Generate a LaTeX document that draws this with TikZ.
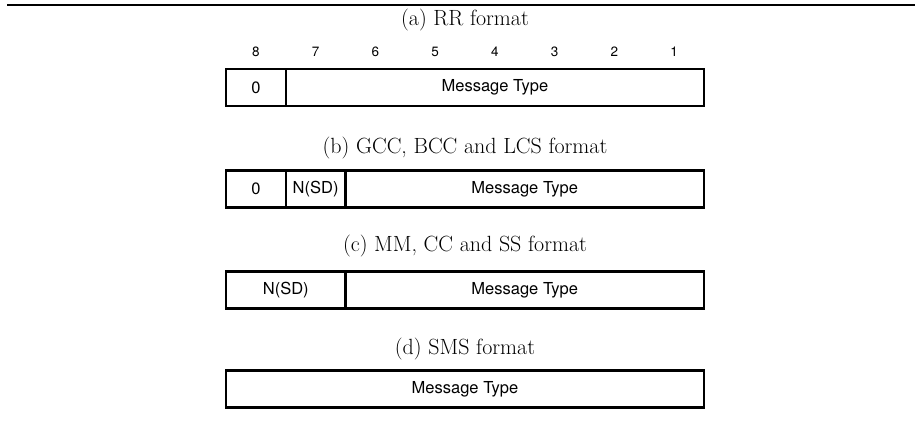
\documentclass[tikz,border=0pt]{standalone}
\usepackage{fontspec}
\newfontfamily\helv{TeX Gyre Heros}
\begin{document}
\begin{tikzpicture}[x=1pt,y=-1pt,
  cell/.style={draw, line width=2.2pt, inner sep=0pt, minimum height=37pt,
    font=\helv\fontsize{16.5}{19}\selectfont},
  bitnum/.style={inner sep=0pt, font=\helv\fontsize{13.5}{16}\selectfont},
  fmtcaption/.style={inner sep=0pt, font=\fontsize{22}{26}\selectfont}]
\useasboundingbox (0,0) rectangle (915,441);
\draw[line width=1.3pt] (7,5) -- (915,5);

% (a) RR format, with bit positions
\node[fmtcaption] (capA) at (465,20) {(a) RR format};
\foreach \b [count=\i from 0] in {8,7,6,5,4,3,2,1}
  \node[bitnum] (bit\b) at (255.875+59.75*\i,52) {\b};
\node[cell, minimum width=59.75pt]  (a0)  at (255.875,87.5) {0};
\node[cell, minimum width=418.25pt] (amt) at (494.875,87.5) {Message Type};

% (b) GCC, BCC and LCS format
\node[fmtcaption] (capB) at (465,148) {(b) GCC, BCC and LCS format};
\node[cell, minimum width=59.75pt] (b0)  at (255.875,189) {0};
\node[cell, minimum width=59.75pt] (bsd) at (315.625,189) {N(SD)};
\node[cell, minimum width=358.5pt] (bmt) at (524.75,189) {Message Type};

% (c) MM, CC and SS format
\node[fmtcaption] (capC) at (465,246) {(c) MM, CC and SS format};
\node[cell, minimum width=119.5pt] (csd) at (285.75,290) {N(SD)};
\node[cell, minimum width=358.5pt] (cmt) at (524.75,290) {Message Type};

% (d) SMS format
\node[fmtcaption] (capD) at (465,349) {(d) SMS format};
\node[cell, minimum width=478pt] (dmt) at (465,389) {Message Type};
\end{tikzpicture}
\end{document}
